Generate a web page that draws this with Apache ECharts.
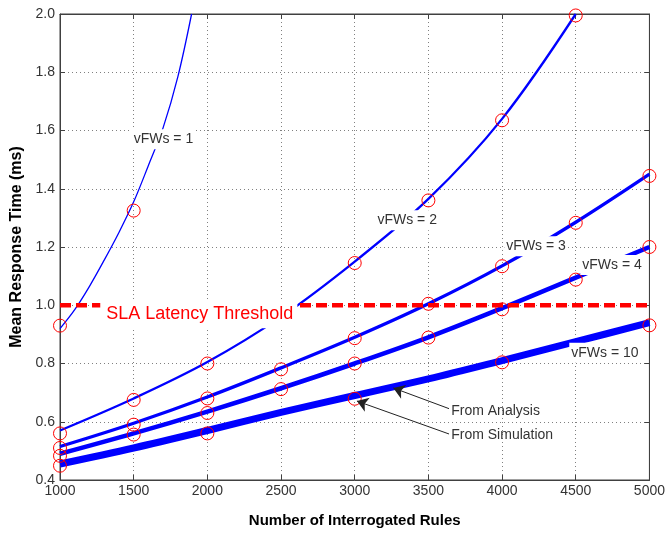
<!DOCTYPE html>
<html>
<head>
<meta charset="utf-8">
<script src="https://cdn.jsdelivr.net/npm/echarts@6/dist/echarts.min.js"></script>
<style>html,body{margin:0;padding:0;background:#fff}#c{width:668px;height:533px}</style>
</head>
<body>
<div id="c"></div>
<script>
// ---- data ----
const rules = [1000, 1500, 2000, 2500, 3000, 3500, 4000, 4500, 5000];
const xTicks = [1000, 1500, 2000, 2500, 3000, 3500, 4000, 4500, 5000];
const yTicks = [0.4, 0.6, 0.8, 1.0, 1.2, 1.4, 1.6, 1.8, 2.0];

// analysis curves
const ana1X = [1000, 1100, 1200, 1300, 1400, 1500, 1600, 1700, 1800, 1893];
const ana1Y = [0.92, 0.985, 1.065, 1.155, 1.25, 1.355, 1.48, 1.61, 1.785, 2.0];
const ana2X = [1000, 1500, 2000, 2500, 3000, 3500, 4000, 4500];
const ana2Y = [0.57, 0.68, 0.805, 0.96, 1.15, 1.365, 1.64, 2.0];
const ana3Y = [0.515, 0.595, 0.685, 0.785, 0.89, 1.005, 1.135, 1.285, 1.45];
const ana4Y = [0.49, 0.56, 0.635, 0.715, 0.80, 0.89, 0.99, 1.095, 1.20];
const ana10Y = [0.455, 0.51, 0.57, 0.632, 0.69, 0.747, 0.81, 0.875, 0.94];

// simulation points
const sim1X = [1000, 1500];
const sim1Y = [0.93, 1.325];
const sim2X = [1000, 1500, 2000, 2500, 3000, 3500, 4000, 4500];
const sim2Y = [0.56, 0.675, 0.80, 0.965, 1.145, 1.36, 1.635, 1.995];
const sim3Y = [0.51, 0.59, 0.68, 0.78, 0.887, 1.005, 1.134, 1.283, 1.444];
const sim4Y = [0.483, 0.556, 0.63, 0.712, 0.80, 0.889, 0.986, 1.088, 1.20];
const sim10X = [1000, 2000, 3000, 4000, 5000];
const sim10Y = [0.449, 0.56, 0.679, 0.804, 0.931];

const slaValue = 1.0;

// annotations
const annotText = ['vFWs = 1', 'vFWs = 2', 'vFWs = 3', 'vFWs = 4', 'vFWs = 10'];
const annotX = [1702, 3356, 4231, 4746, 4698];
const annotY = [1.57, 1.292, 1.203, 1.138, 0.837];
const slaText = 'SLA Latency Threshold';
const slaTextX = 1942, slaTextY = 0.969;
const arrowText = ['From Analysis', 'From Simulation'];
const arrowTextX = [3655, 3655];
const arrowTextY = [0.636, 0.554];
const arrowFrom = [[3640, 0.645], [3640, 0.558]];
const arrowTo = [[3262, 0.716], [3015, 0.671]];

// ---- chart ----
const zip = (xs, ys) => xs.map((x, i) => [x, ys[i]]);
const FONT = '"Liberation Sans", Arial, sans-serif';
const BLUE = '#0000ff';
const RED = '#ff0000';

function anaSeries(data, w) {
  return { type: 'line', data, smooth: 0.35, symbol: 'none', z: 2,
    lineStyle: { color: BLUE, width: w }, silent: true, animation: false };
}
function simSeries(data) {
  return { type: 'scatter', data, symbol: 'circle', symbolSize: 13, z: 4,
    itemStyle: { color: 'rgba(0,0,0,0)', borderColor: RED, borderWidth: 1, opacity: 1 },
    silent: true, animation: false };
}

const labelData = annotText.map((t, i) => ({ value: [annotX[i], annotY[i]], label: { formatter: t } }));
const arrowLabelData = arrowText.map((t, i) => ({ value: [arrowTextX[i], arrowTextY[i]], label: { formatter: t } }));

const gridColor = '#808080';
const axisColor = '#404040';

const option = {
  backgroundColor: '#fff',
  animation: false,
  textStyle: { fontFamily: FONT },
  grid: { left: 60, right: 17, top: 14, bottom: 50, show: true, borderColor: axisColor, borderWidth: 1 },
  xAxis: [{
    type: 'value', min: xTicks[0], max: xTicks[xTicks.length - 1], interval: 500,
    name: 'Number of Interrogated Rules', nameLocation: 'middle', nameGap: 33,
    nameTextStyle: { fontSize: 15, fontWeight: 'bold', color: '#000', fontFamily: FONT },
    axisLine: { show: true, lineStyle: { color: axisColor } },
    axisTick: { inside: true, length: 5, lineStyle: { color: axisColor } },
    axisLabel: { color: '#333', fontSize: 14, margin: 4, fontFamily: FONT, formatter: v => String(v) },
    splitLine: { show: true, lineStyle: { color: gridColor, type: [1, 3], width: 1 } }
  }, {
    type: 'value', position: 'top', min: xTicks[0], max: xTicks[xTicks.length - 1], interval: 500,
    axisLine: { show: true, lineStyle: { color: axisColor } },
    axisTick: { inside: true, length: 5, lineStyle: { color: axisColor } },
    axisLabel: { show: false }, splitLine: { show: false }
  }],
  yAxis: [{
    type: 'value', min: yTicks[0], max: yTicks[yTicks.length - 1], interval: 0.2,
    name: 'Mean Response Time (ms)', nameLocation: 'middle', nameGap: 33,
    nameTextStyle: { fontSize: 16, fontWeight: 'bold', color: '#000', fontFamily: FONT },
    axisLine: { show: true, lineStyle: { color: axisColor } },
    axisTick: { inside: true, length: 5, lineStyle: { color: axisColor } },
    axisLabel: { color: '#333', fontSize: 14, margin: 5, fontFamily: FONT,
      formatter: v => v.toFixed(1) },
    splitLine: { show: true, lineStyle: { color: gridColor, type: [1, 3], width: 1 } }
  }, {
    type: 'value', position: 'right', min: yTicks[0], max: yTicks[yTicks.length - 1], interval: 0.2,
    axisLine: { show: true, lineStyle: { color: axisColor } },
    axisTick: { inside: true, length: 5, lineStyle: { color: axisColor } },
    axisLabel: { show: false }, splitLine: { show: false }
  }],
  series: [
    anaSeries(zip(ana1X, ana1Y), 1.3),
    anaSeries(zip(ana2X, ana2Y), 2.3),
    anaSeries(zip(rules, ana3Y), 3.3),
    anaSeries(zip(rules, ana4Y), 4.5),
    anaSeries(zip(rules, ana10Y), 7),
    { type: 'line', data: [[xTicks[0], slaValue], [xTicks[xTicks.length - 1], slaValue]], symbol: 'none', z: 3,
      lineStyle: { color: RED, width: 4.5, type: [11, 5] }, silent: true },
    { type: 'lines', coordinateSystem: 'cartesian2d', z: 6, silent: true,
      symbol: ['none', 'arrow'], symbolSize: 11,
      itemStyle: { color: '#222' },
      lineStyle: { color: '#222', width: 1, opacity: 1 },
      data: arrowFrom.map((f, i) => ({ coords: [f, arrowTo[i]] })) },
    simSeries(zip(sim1X, sim1Y)),
    simSeries(zip(sim2X, sim2Y)),
    simSeries(zip(rules, sim3Y)),
    simSeries(zip(rules, sim4Y)),
    simSeries(zip(sim10X, sim10Y)),
    { type: 'scatter', z: 10, symbolSize: 0, silent: true, data: labelData,
      itemStyle: { opacity: 1 },
      label: { show: true, position: 'inside', color: '#333', fontSize: 14, fontFamily: FONT,
        backgroundColor: '#fff', padding: [3, 2] } },
    { type: 'scatter', z: 10, symbolSize: 0, silent: true,
      itemStyle: { opacity: 1 },
      data: [{ value: [slaTextX, slaTextY], label: { formatter: slaText } }],
      label: { show: true, position: 'inside', color: RED, fontSize: 18, fontFamily: FONT,
        backgroundColor: '#fff', padding: [5, 4, 5, 6] } },
    { type: 'scatter', z: 10, symbolSize: 0, silent: true, data: arrowLabelData,
      itemStyle: { opacity: 1 },
      label: { show: true, position: 'right', distance: 0, color: '#333', fontSize: 14, fontFamily: FONT } }
  ]
};

const chart = echarts.init(document.getElementById('c'), null, { renderer: 'canvas' });
chart.setOption(option);
</script>
</body>
</html>
